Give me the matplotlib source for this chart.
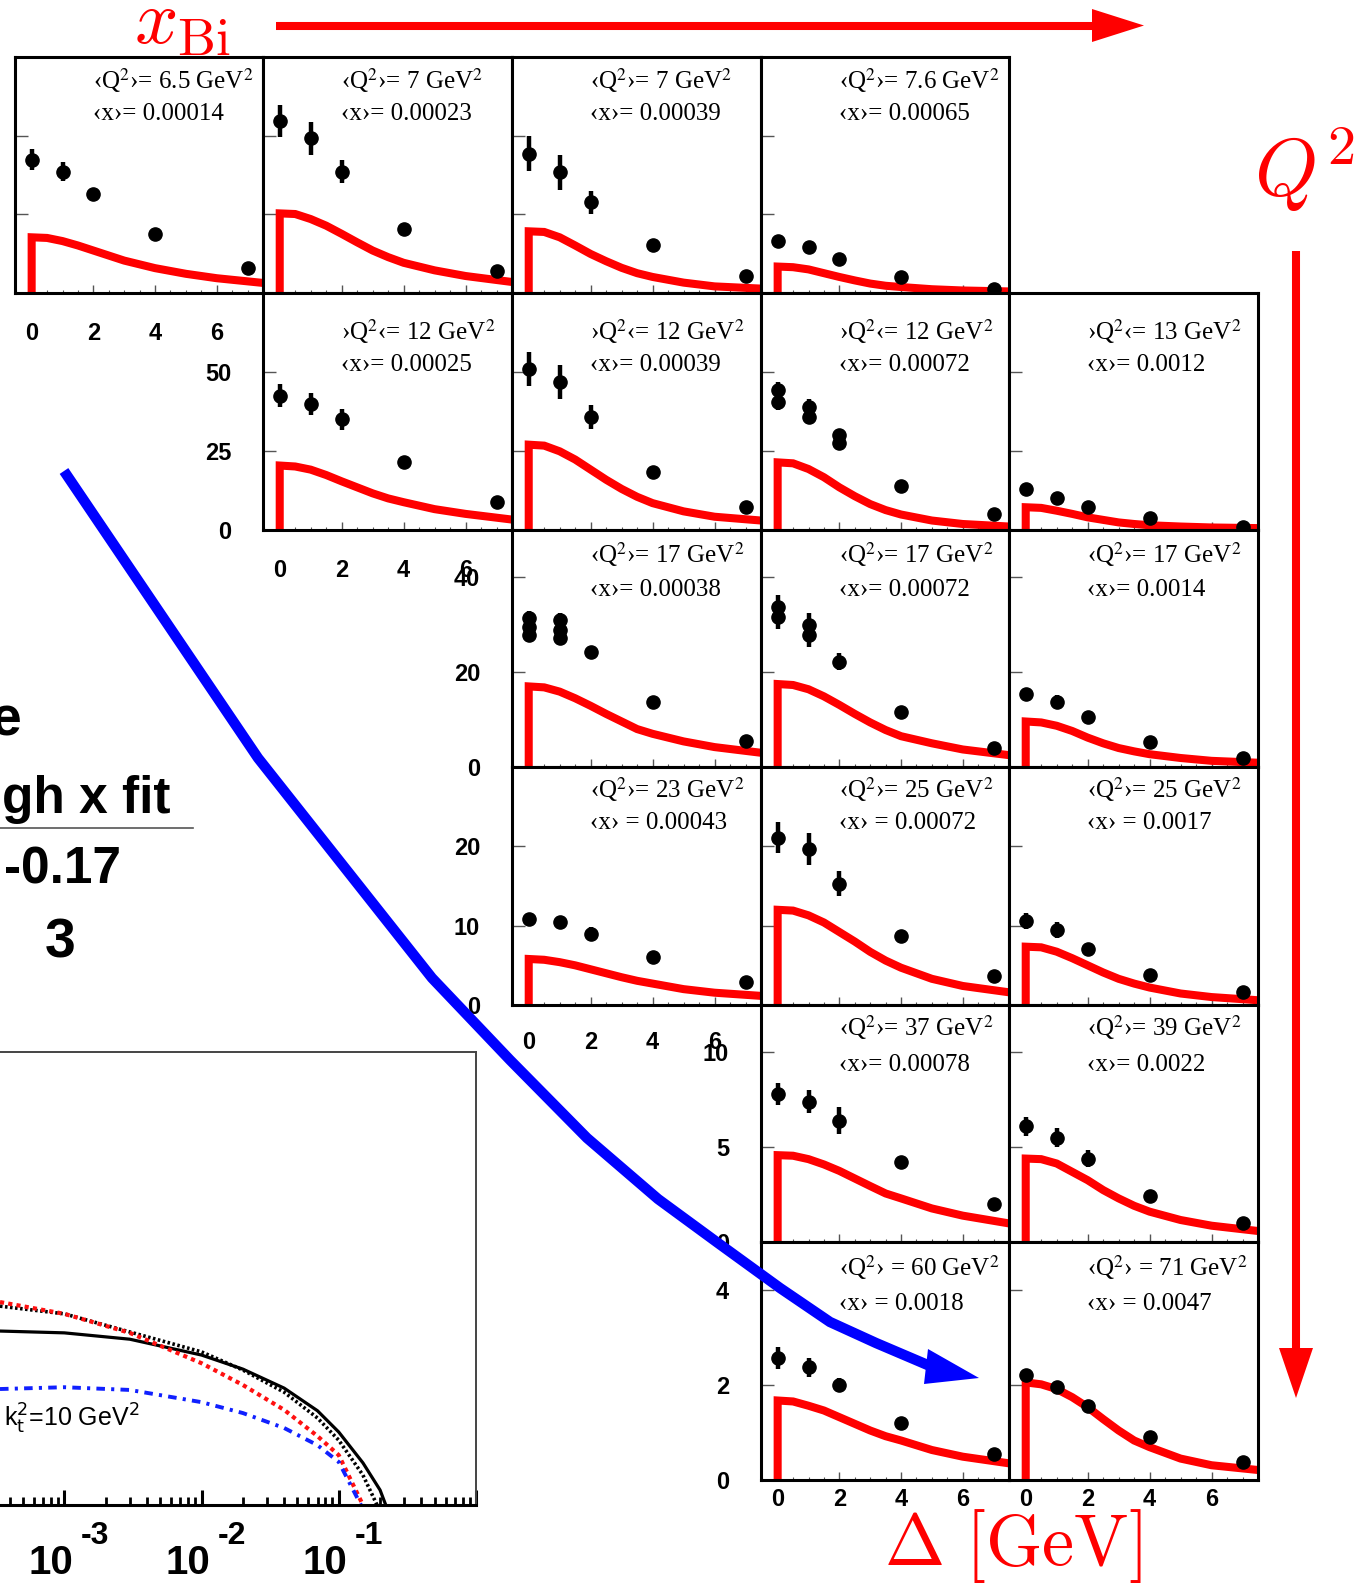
import numpy as np
import matplotlib
matplotlib.use("Agg")
import matplotlib.pyplot as plt
from matplotlib.ticker import MultipleLocator, LogLocator, NullFormatter

W, H, DPI = 1355, 1587, 100

# --------------------------------------------------
# DATA : panels of the Delta-distributions
# --------------------------------------------------
pt_x = [0, 1, 2, 4, 7]
curve_x = [0, 0.5, 1, 1.5, 2, 2.5, 3, 3.5, 4, 5, 6, 7.5]

panel_row = [0, 0, 0, 0, 1, 1, 1, 1, 2, 2, 2, 3, 3, 3, 4, 4, 5, 5]
panel_col = [0, 1, 2, 3, 1, 2, 3, 4, 2, 3, 4, 2, 3, 4, 3, 4, 3, 4]

q2_labels = [
    "‹Q$^2$›= 6.5 GeV$^2$", "‹Q$^2$›= 7 GeV$^2$", "‹Q$^2$›= 7 GeV$^2$", "‹Q$^2$›= 7.6 GeV$^2$",
    "›Q$^2$‹= 12 GeV$^2$", "›Q$^2$‹= 12 GeV$^2$", "›Q$^2$‹= 12 GeV$^2$", "›Q$^2$‹= 13 GeV$^2$",
    "‹Q$^2$›= 17 GeV$^2$", "‹Q$^2$›= 17 GeV$^2$", "‹Q$^2$›= 17 GeV$^2$",
    "‹Q$^2$›= 23 GeV$^2$", "‹Q$^2$›= 25 GeV$^2$", "‹Q$^2$›= 25 GeV$^2$",
    "‹Q$^2$›= 37 GeV$^2$", "‹Q$^2$›= 39 GeV$^2$",
    "‹Q$^2$› = 60 GeV$^2$", "‹Q$^2$› = 71 GeV$^2$",
]
x_labels = [
    "‹x›= 0.00014", "‹x›= 0.00023", "‹x›= 0.00039", "‹x›= 0.00065",
    "‹x›= 0.00025", "‹x›= 0.00039", "‹x›= 0.00072", "‹x›= 0.0012",
    "‹x›= 0.00038", "‹x›= 0.00072", "‹x›= 0.0014",
    "‹x› = 0.00043", "‹x› = 0.00072", "‹x› = 0.0017",
    "‹x›= 0.00078", "‹x›= 0.0022",
    "‹x› = 0.0018", "‹x› = 0.0047",
]

pt_y = [
    [42.4, 38.6, 31.6, 18.7, 7.9],
    [54.7, 49.1, 38.6, 20.3, 7.0],
    [44.3, 38.3, 28.8, 15.2, 5.4],
    [16.5, 14.6, 10.7, 5.1, 1.3],
    [42.5, 39.9, 35.0, 21.5, 8.9],
    [50.9, 46.9, 35.7, 18.5, 7.4],
    [44.3, 39.0, 30.0, 13.9, 5.0],
    [12.9, 10.2, 7.4, 3.9, 1.0],
    [31.4, 31.0, 24.2, 13.8, 5.5],
    [33.7, 30.0, 22.2, 11.5, 4.1],
    [15.4, 13.8, 10.5, 5.2, 1.8],
    [10.8, 10.4, 9.0, 6.0, 2.9],
    [21.1, 19.7, 15.3, 8.7, 3.7],
    [10.6, 9.5, 7.0, 3.8, 1.7],
    [7.8, 7.4, 6.4, 4.2, 2.0],
    [6.1, 5.5, 4.4, 2.4, 1.0],
    [2.56, 2.37, 2.0, 1.19, 0.54],
    [2.2, 1.96, 1.56, 0.91, 0.38],
]
pt_err = [
    [3.4, 3.0, 1.5, 1.0, 0.8],
    [5.0, 5.3, 3.6, 1.0, 0.8],
    [5.6, 5.7, 3.6, 1.0, 0.8],
    [1.0, 1.0, 0.8, 0.6, 0.4],
    [3.6, 3.6, 3.4, 1.0, 0.8],
    [5.3, 5.3, 3.7, 1.2, 0.8],
    [2.5, 2.5, 2.0, 1.5, 0.8],
    [0.8, 0.8, 0.6, 0.5, 0.3],
    [1.5, 1.5, 1.3, 0.8, 0.6],
    [2.5, 2.5, 1.8, 0.7, 0.5],
    [1.3, 1.3, 0.8, 0.6, 0.4],
    [0.8, 0.8, 0.8, 0.5, 0.4],
    [2.0, 2.0, 1.6, 0.6, 0.4],
    [1.0, 1.0, 0.6, 0.5, 0.3],
    [0.6, 0.6, 0.7, 0.3, 0.2],
    [0.5, 0.5, 0.45, 0.25, 0.15],
    [0.23, 0.2, 0.15, 0.08, 0.06],
    [0.1, 0.1, 0.08, 0.06, 0.05],
]
curve_y = [
    [17.7, 17.5, 16.5, 15.1, 13.5, 11.9, 10.3, 9.1, 7.9, 6.1, 4.7, 3.2],
    [25.3, 25.1, 23.5, 21.4, 18.8, 16.1, 13.5, 11.4, 9.6, 7.2, 5.4, 3.5],
    [19.6, 19.4, 17.7, 15.1, 12.4, 10.1, 8.0, 6.3, 5.1, 3.3, 2.1, 1.4],
    [8.4, 8.2, 7.5, 6.3, 5.1, 4.0, 3.0, 2.3, 1.9, 1.2, 0.8, 0.5],
    [20.4, 20.1, 19.1, 17.4, 15.4, 13.5, 11.6, 10.0, 8.8, 6.6, 5.1, 3.3],
    [27.0, 26.7, 24.9, 22.3, 19.1, 15.9, 13.0, 10.5, 8.5, 5.9, 4.2, 3.0],
    [21.4, 21.1, 19.3, 16.7, 13.5, 10.7, 8.2, 6.3, 4.9, 3.0, 1.9, 1.1],
    [7.2, 7.0, 6.1, 5.1, 4.0, 3.2, 2.4, 1.9, 1.5, 1.1, 0.8, 0.6],
    [17.0, 16.8, 15.9, 14.5, 12.9, 11.2, 9.6, 8.0, 7.0, 5.4, 4.2, 3.0],
    [17.5, 17.3, 16.4, 14.9, 13.1, 11.2, 9.4, 7.8, 6.5, 5.0, 3.7, 2.5],
    [9.6, 9.4, 8.7, 7.6, 6.2, 5.0, 4.0, 3.3, 2.7, 1.9, 1.3, 0.9],
    [5.8, 5.7, 5.4, 5.0, 4.5, 4.0, 3.5, 3.05, 2.7, 2.0, 1.55, 1.15],
    [12.0, 11.9, 11.3, 10.4, 9.2, 8.0, 6.7, 5.6, 4.7, 3.3, 2.4, 1.6],
    [7.35, 7.27, 6.72, 5.9, 5.0, 4.1, 3.3, 2.7, 2.2, 1.45, 1.0, 0.6],
    [4.58, 4.55, 4.37, 4.09, 3.75, 3.35, 2.95, 2.56, 2.3, 1.77, 1.39, 0.98],
    [4.40, 4.37, 4.14, 3.70, 3.26, 2.74, 2.30, 1.91, 1.60, 1.16, 0.86, 0.58],
    [1.67, 1.65, 1.56, 1.46, 1.32, 1.18, 1.04, 0.92, 0.83, 0.63, 0.49, 0.35],
    [2.05, 2.01, 1.91, 1.74, 1.53, 1.28, 1.04, 0.83, 0.69, 0.45, 0.31, 0.21],
]

# stacked extra measurements at the same Delta
extra_panel = [6, 6, 6, 8, 8, 8, 8, 9, 9]
extra_x = [0, 1, 2, 0, 0, 1, 1, 0, 1]
extra_y = [40.6, 35.9, 27.4, 29.6, 27.8, 28.9, 27.2, 31.7, 27.8]
extra_err = [2.5, 2.5, 2.0, 1.5, 1.5, 1.5, 1.5, 2.5, 2.5]

row_ymax = [75, 75, 50, 30, 12.5, 5]
row_yticks = [[0, 25, 50], [0, 25, 50], [0, 20, 40], [0, 10, 20], [0, 5, 10], [0, 2, 4]]

# --------------------------------------------------
# DATA : lower-left gluon density plot
# --------------------------------------------------
kt_x = [3.4e-4, 1e-3, 3e-3, 1e-2, 2e-2, 4e-2, 7e-2, 0.1, 0.15, 0.2, 0.22]
solid_y = [0.384, 0.380, 0.366, 0.331, 0.300, 0.258, 0.208, 0.161, 0.093, 0.033, 0.0]
dotted_x = [3.4e-4, 1e-3, 3e-3, 1e-2, 2e-2, 4e-2, 7e-2, 0.1, 0.15, 0.19]
dotted_y = [0.439, 0.422, 0.382, 0.338, 0.298, 0.249, 0.192, 0.143, 0.066, 0.0]
red_x = [3.4e-4, 1e-3, 3e-3, 1e-2, 2e-2, 4e-2, 7e-2, 0.1, 0.15]
red_y = [0.448, 0.422, 0.380, 0.313, 0.265, 0.210, 0.152, 0.110, 0.0]
blue_x = [3.4e-4, 1e-3, 3e-3, 1e-2, 2e-2, 4e-2, 7e-2, 0.1, 0.145]
blue_y = [0.256, 0.260, 0.254, 0.227, 0.203, 0.170, 0.132, 0.095, 0.0]
decades = [-3, -2, -1]

# --------------------------------------------------
# LAYOUT (pixels)
# --------------------------------------------------
col_edges = [15, 263, 512, 761, 1009, 1258]
row_edges = [57, 293, 530, 767, 1005, 1242, 1480]
row_text_off = [(24, 57), (39, 72), (25, 60), (23, 56), (23, 60), (26, 62)]
row_xpad = [21, 21, 19, 19, 6, 6]

plt.rcParams["font.family"] = ["Liberation Sans", "DejaVu Sans"]

fig = plt.figure(figsize=(W / DPI, H / DPI), dpi=DPI)


def px_axes(x0, y0, x1, y1, **kw):
    return fig.add_axes([x0 / W, 1 - y1 / H, (x1 - x0) / W, (y1 - y0) / H], **kw)


# --------------------------------------------------
# LOWER-LEFT PLOT
# --------------------------------------------------
axb = px_axes(0, 1052, 476, 1505)
axb.set_xscale("log")
axb.set_xlim(3.4e-4, 1.0)
axb.set_ylim(0, 1)
axb.plot(kt_x, solid_y, color="black", lw=2.3)
axb.plot(dotted_x, dotted_y, color="black", lw=2.6, dashes=(0.7, 0.7))
axb.plot(red_x, red_y, color="#ff1010", lw=3.0, dashes=(1.0, 1.0))
axb.plot(blue_x, blue_y, color="#1020ff", lw=2.8, dashes=(2.2, 1.6, 0.8, 1.6))
axb.spines["left"].set_visible(False)
for s in ["top", "right"]:
    axb.spines[s].set_linewidth(1.4)
    axb.spines[s].set_color("#444444")
axb.spines["bottom"].set_linewidth(2.2)
axb.xaxis.set_minor_locator(LogLocator(base=10, subs=np.arange(2, 10)))
axb.xaxis.set_minor_formatter(NullFormatter())
axb.tick_params(axis="x", which="major", direction="in", length=11, width=2.2,
                labelbottom=False)
axb.tick_params(axis="x", which="minor", direction="in", length=5.5, width=2.0)
axb.tick_params(axis="y", left=False, labelleft=False)
for k in decades:
    axb.annotate("10", xy=(10.0 ** k, 0), xycoords=("data", "axes fraction"),
                 xytext=(-10, -42), textcoords="offset points",
                 ha="center", va="center", fontsize=29, fontweight="bold",
                 annotation_clip=False)
    axb.annotate(str(k), xy=(10.0 ** k, 0), xycoords=("data", "axes fraction"),
                 xytext=(22, -22), textcoords="offset points",
                 ha="center", va="center", fontsize=23, fontweight="bold",
                 annotation_clip=False)

# --------------------------------------------------
# PANELS
# --------------------------------------------------
bottom_row, left_col = {}, {}
for r, c in zip(panel_row, panel_col):
    bottom_row[c] = max(bottom_row.get(c, 0), r)
    left_col[r] = min(left_col.get(r, 99), c)

for i, (r, c) in enumerate(zip(panel_row, panel_col)):
    ax = px_axes(col_edges[c], row_edges[r], col_edges[c + 1], row_edges[r + 1])
    ax.set_xlim(-0.54, 7.5)
    ax.set_ylim(0, row_ymax[r])

    ax.plot([0] + curve_x, [0] + curve_y[i], color="red", lw=5.8,
            solid_joinstyle="miter")
    ax.errorbar(pt_x, pt_y[i], yerr=pt_err[i], fmt="o", color="black",
                ms=9.5, elinewidth=3.2, capsize=0)
    ex = [x for p, x in zip(extra_panel, extra_x) if p == i]
    ey = [y for p, y in zip(extra_panel, extra_y) if p == i]
    ee = [e for p, e in zip(extra_panel, extra_err) if p == i]
    if ex:
        ax.errorbar(ex, ey, yerr=ee, fmt="o", color="black",
                    ms=9.5, elinewidth=3.2, capsize=0)

    ax.set_xticks([0, 2, 4, 6])
    ax.set_yticks(row_yticks[r])
    ax.xaxis.set_minor_locator(MultipleLocator(0.5))
    ax.tick_params(axis="x", which="major", direction="in", length=6, width=1,
                   color="#555555", pad=row_xpad[r],
                   labelbottom=(bottom_row[c] == r), labelsize=17)
    ax.tick_params(axis="x", which="minor", direction="in", length=2.5, width=0.8,
                   color="#555555")
    ax.tick_params(axis="y", which="major", direction="in", length=9, width=1,
                   color="#555555", pad=23,
                   labelleft=(left_col[r] == c and r > 0), labelsize=17)
    for lab in ax.get_xticklabels() + ax.get_yticklabels():
        lab.set_fontweight("bold")
    for s in ax.spines.values():
        s.set_linewidth(2.2)

    h = row_edges[r + 1] - row_edges[r]
    off1, off2 = row_text_off[r]
    ax.text(0.315, 1 - off1 / h, q2_labels[i], transform=ax.transAxes,
            ha="left", va="center", fontsize=18, family="Liberation Serif",
            math_fontfamily="stix")
    ax.text(0.315, 1 - off2 / h, x_labels[i], transform=ax.transAxes,
            ha="left", va="center", fontsize=18, family="Liberation Serif",
            math_fontfamily="stix")

# --------------------------------------------------
# OVERLAY : arrows and annotations (pixel coordinates)
# --------------------------------------------------
ov = fig.add_axes([0, 0, 1, 1], zorder=10)
ov.set_xlim(0, W)
ov.set_ylim(H, 0)
ov.axis("off")
ov.patch.set_visible(False)

# red x_Bi arrow
ov.plot([276, 1096], [25.5, 25.5], color="red", lw=5.8, solid_capstyle="butt")
ov.fill([1092, 1144, 1092], [9, 25.5, 42], color="red", lw=0)
ov.text(134, 43, r"$x_{\rm Bi}$", fontsize=55, color="red",
        math_fontfamily="cm", ha="left", va="baseline")

# red Q^2 arrow
ov.plot([1296, 1296], [251, 1352], color="red", lw=5.8, solid_capstyle="butt")
ov.fill([1279, 1296, 1313], [1348, 1398, 1348], color="red", lw=0)
ov.text(1254, 196, r"$Q^2$", fontsize=58, color="red",
        math_fontfamily="cm", ha="left", va="baseline")

ov.text(884, 1565, r"$\Delta\ [\mathrm{GeV}]$", fontsize=52, color="red",
        math_fontfamily="cm", ha="left", va="baseline")

# blue connecting arrow
blue_path_x = [64, 258, 432, 510, 587, 658, 718, 780, 830, 876, 930]
blue_path_y = [471, 758, 978, 1060, 1138, 1199, 1243, 1288, 1322, 1343, 1366]
ov.plot(blue_path_x, blue_path_y, color="#0000ff", lw=7.5,
        solid_capstyle="butt", solid_joinstyle="miter")
ov.fill([928, 979, 924], [1349, 1378, 1384], color="#0000ff", lw=0)

# cut-off text at the left edge
ov.text(-9, 735, "e", fontsize=40, fontweight="bold", ha="left", va="baseline")
ov.text(2, 813, "gh x fit", fontsize=37, fontweight="bold", ha="left", va="baseline")
ov.plot([0, 193], [828, 828], color="#555555", lw=1.2)
ov.text(4, 883, "-0.17", fontsize=37, fontweight="bold", ha="left", va="baseline")
ov.text(60, 958, "3", fontsize=40, fontweight="bold", ha="center", va="baseline")

ov.text(4, 1427, r"k$_{\rm t}^{2}$=10 GeV$^{2}$", fontsize=18,
        math_fontfamily="dejavusans", ha="left", va="baseline")

fig.savefig("out.png", dpi=DPI)
